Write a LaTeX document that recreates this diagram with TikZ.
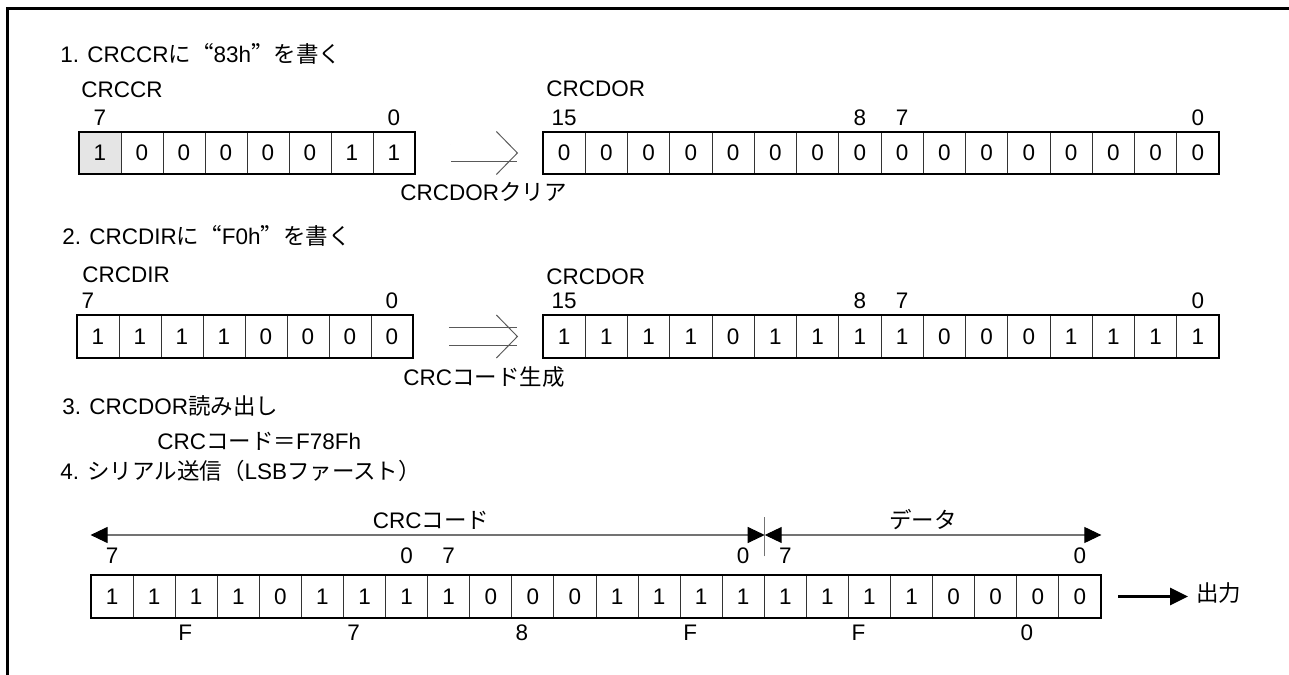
\documentclass[tikz,border=0pt]{standalone}
\usepackage{fontspec}
\setmainfont{Liberation Sans}
\newfontfamily\jp{Noto Sans CJK JP}
\newfontfamily\jpq[RawFeature=+fwid]{Noto Sans CJK JP}
\usetikzlibrary{arrows.meta}

\begin{document}
\begin{tikzpicture}[x=0.02cm, y=-0.02cm,
    every node/.style={font=\fontsize{12.8}{15}\selectfont},
    lbl/.style={inner sep=0pt, anchor=base},
    ttl/.style={inner sep=0pt, anchor=base west},
    bit/.style={draw=black!80, line width=0.5pt, minimum height=0.83cm, inner sep=0pt},
    regbox/.style={draw, line width=1.1pt},
    dblarrow/.style={double, double distance=0.34cm, line width=0.55pt, draw=black!65, shorten <=0.71cm, shorten >=0.49cm, -{Straight Barb[length=0.42cm, width=0.86cm, line width=0.55pt]}},
    spanarrow/.style={draw=black!55, line width=0.6pt, {Triangle[length=0.34cm, width=0.32cm, color=black]}-{Triangle[length=0.34cm, width=0.32cm, color=black]}},
    outarrow/.style={line width=1.7pt, -{Triangle[length=0.36cm, width=0.34cm]}, shorten <=0.34cm, shorten >=0.16cm}]
    \useasboundingbox (0,0) rectangle (1289,675);
    \draw[line width=1.6pt] (7.3,675) -- (7.3,8.5) -- (1289,8.5);

    \node[ttl] (t1) at (60,63) {1. CRCCR{\jp に}{\jpq “}83h{\jpq ”}{\jp を書く}};
    \node[ttl] (ccrname) at (81,98) {CRCCR};
    \foreach \v/\f [count=\i from 0] in {1/black!10,0/white,0/white,0/white,0/white,0/white,1/white,1/white}
        \node[bit, fill=\f, minimum width=0.84cm] (ccr\i) at ({100+42*\i},153) {\v};
    \draw[regbox] (ccr0.north west) rectangle (ccr7.south east);
    \node[lbl] (ccrhi) at (ccr0 |- 0,126) {7};
    \node[lbl] (ccrlo) at (ccr7 |- 0,126) {0};

    \node[ttl] (dorname) at (546,97) {CRCDOR};
    \foreach \i in {0,...,15}
        \node[bit, minimum width=0.845cm] (dor\i) at ({564.125+42.25*\i},153) {0};
    \draw[regbox] (dor0.north west) rectangle (dor15.south east);
    \foreach \b/\c in {0/15,7/8,8/7,15/0}
        \node[lbl] (dorl\b) at (dor\b |- 0,126) {\c};
    \draw[dblarrow] (ccr7.east) -- (dor0.west);
    \node[ttl] (clr) at (400,201) {CRCDOR{\jp クリア}};

    \node[ttl] (t2) at (62,245) {2. CRCDIR{\jp に}{\jpq “}F0h{\jpq ”}{\jp を書く}};
    \node[ttl] (dirname) at (82,283) {CRCDIR};
    \foreach \v [count=\i from 0] in {1,1,1,1,0,0,0,0}
        \node[bit, minimum width=0.84cm] (dir\i) at ({98+42*\i},336.5) {\v};
    \draw[regbox] (dir0.north west) rectangle (dir7.south east);
    \node[lbl] (dirhi) at (88,309) {7};
    \node[lbl] (dirlo) at (dir7 |- 0,309) {0};

    \node[ttl] (doutname) at (546,285) {CRCDOR};
    \foreach \v [count=\i from 0] in {1,1,1,1,0,1,1,1,1,0,0,0,1,1,1,1}
        \node[bit, minimum width=0.845cm] (dout\i) at ({564.125+42.25*\i},336.5) {\v};
    \draw[regbox] (dout0.north west) rectangle (dout15.south east);
    \foreach \b/\c in {0/15,7/8,8/7,15/0}
        \node[lbl] (doutl\b) at (dout\b |- 0,309) {\c};
    \draw[dblarrow] (dir7.east) -- (dout0.west);
    \node[ttl] (gen) at (403,386) {CRC{\jp コード生成}};

    \node[ttl] (t3) at (62,415) {3. CRCDOR{\jp 読み出し}};
    \node[ttl] (res) at (157,450) {CRC{\jp コード＝}F78Fh};

    \node[ttl] (t4) at (60,480) {4. {\jp シリアル送信（}LSB{\jp ファースト）}};
    \foreach \v [count=\i from 0] in {1,1,1,1,0,1,1,1,1,0,0,0,1,1,1,1,1,1,1,1,0,0,0,0}
        \node[bit, minimum width=0.8416cm] (ser\i) at ({112.04+42.08*\i},596.5) {\v};
    \draw[regbox] (ser0.north west) rectangle (ser23.south east);
    \foreach \b/\c in {0/7,7/0,8/7,15/0,16/7,23/0}
        \node[lbl] (serl\b) at (ser\b |- 0,563) {\c};
    \foreach \h [count=\k from 0] in {F,7,8,F,F,0}
        \node[lbl] (nib\k) at ({185.2+168.32*\k},641) {\h};

    \coordinate (crcL) at (ser0.west |- 0,535);
    \coordinate (crcR) at (ser15.east |- 0,535);
    \coordinate (datR) at (ser23.east |- 0,535);
    \draw[spanarrow] (crcL) -- (crcR);
    \draw[spanarrow] (crcR) -- (datR);
    \draw[draw=black!55, line width=0.6pt] (ser15.north east) ++(0,-19) -- ++(0,-39);
    \node[lbl] (crclbl) at (431,529) {CRC{\jp コード}};
    \node[lbl] (datlbl) at (923,529) {\jp データ};

    \node[ttl] (out) at (1196,602) {\jp 出力};
    \draw[outarrow] (ser23.east) -- (ser23.east -| out.west);
\end{tikzpicture}
\end{document}
